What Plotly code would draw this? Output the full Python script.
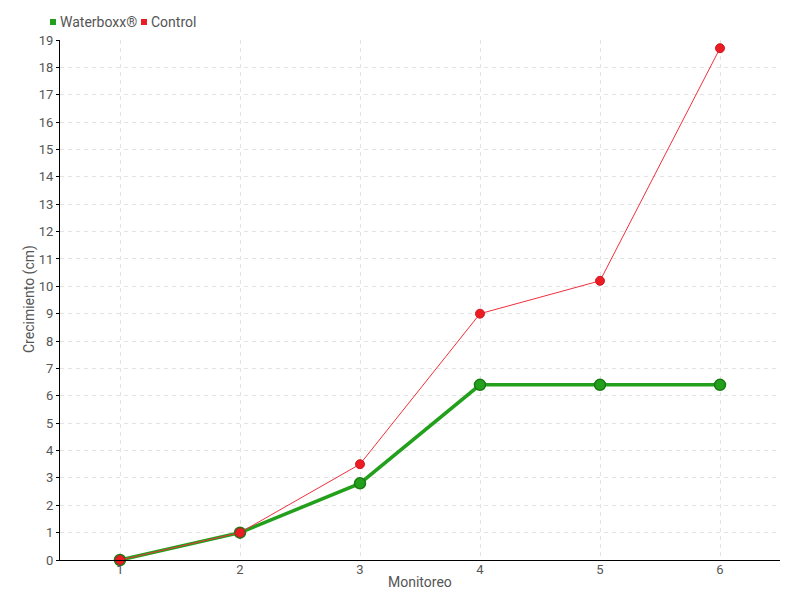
import plotly.graph_objects as go

monitoreo = [1, 2, 3, 4, 5, 6]
waterboxx = [0, 1.0, 2.8, 6.4, 6.4, 6.4]
control = [0, 1.0, 3.5, 9.0, 10.2, 18.7]
series_names = ["Waterboxx®", "Control"]
x_title = "Monitoreo"
y_title = "Crecimiento (cm)"

FONT = "Roboto, sans-serif"
GREEN = "#23a01b"
RED = "#ec1c24"
TXT = "#555555"

fig = go.Figure()
fig.add_trace(go.Scatter(
    x=monitoreo, y=waterboxx, name=series_names[0], mode="lines+markers",
    line=dict(color=GREEN, width=3.5), showlegend=False,
    marker=dict(size=11, color=GREEN, line=dict(color="#1a7a14", width=1.5), symbol="circle"),
))
fig.add_trace(go.Scatter(
    x=monitoreo, y=control, name=series_names[1], mode="lines+markers",
    line=dict(color="#f0303d", width=1), showlegend=False,
    marker=dict(size=9, color=RED, line=dict(color="#d01820", width=1)),
))

W, H = 800, 600
L, R, T, B = 60, 20, 40, 40
PW, PH = W - L - R, H - T - B
def fx(xp):
    return (xp - L) / PW
def fy(yp):
    return (H - B - yp) / PH

legend_items = [(series_names[0], GREEN, 50), (series_names[1], RED, 141)]
for name, col, x0 in legend_items:
    fig.add_shape(type="rect", xref="paper", yref="paper",
                  x0=fx(x0), x1=fx(x0 + 6), y0=fy(25), y1=fy(19),
                  fillcolor=col, line=dict(width=0))
    fig.add_annotation(text=name, xref="paper", yref="paper",
                       x=fx(x0 + 8), y=fy(22),
                       xanchor="left", yanchor="middle", showarrow=False,
                       font=dict(size=14, color=TXT, family=FONT))

fig.add_annotation(text=x_title, xref="paper", yref="paper", x=fx(420), y=fy(582),
                   xanchor="center", yanchor="middle", showarrow=False,
                   font=dict(size=14, color=TXT, family=FONT))
fig.add_annotation(text=y_title, xref="paper", yref="paper", x=fx(29), y=fy(299),
                   xanchor="center", yanchor="middle", showarrow=False, textangle=-90,
                   font=dict(size=14, color=TXT, family=FONT))

fig.update_layout(
    width=W, height=H,
    margin=dict(l=L, r=R, t=T, b=B, autoexpand=False),
    paper_bgcolor="white", plot_bgcolor="white",
    font=dict(family=FONT, size=13, color=TXT),
    showlegend=False,
    xaxis=dict(
        range=[0.5, 6.5], tickvals=monitoreo, ticktext=[str(v) for v in monitoreo],
        showgrid=True, gridcolor="#e3e3e3", griddash="4px,4px", gridwidth=1,
        showline=True, linecolor="black", linewidth=1, zeroline=False,
        ticks="", tickfont=dict(size=13, color=TXT), automargin=False,
        ticklabelstandoff=-3,
    ),
    yaxis=dict(
        range=[0, 19], tickvals=list(range(0, 20)),
        showgrid=True, gridcolor="#e3e3e3", griddash="4px,4px", gridwidth=1,
        showline=True, linecolor="black", linewidth=1, zeroline=False,
        ticks="outside", ticklen=3, tickcolor="black", automargin=False,
        tickfont=dict(size=13, color=TXT),
    ),
)
fig.update_traces(cliponaxis=False)

fig.write_html("out.html", config={"displayModeBar": False},
               post_script="document.body.style.margin='0';")
